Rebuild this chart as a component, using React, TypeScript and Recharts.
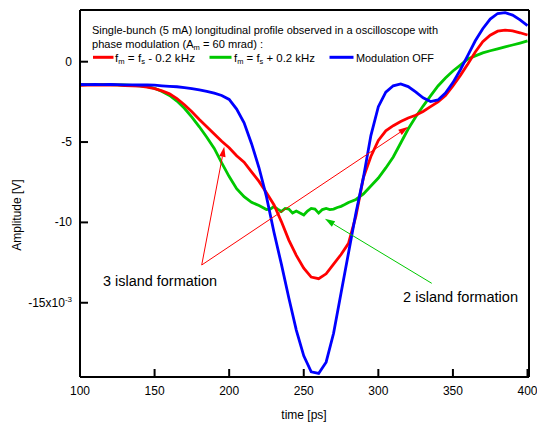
import { LineChart, Line, XAxis, YAxis, ReferenceLine } from 'recharts';

const FONT = '"Liberation Sans", Arial, Helvetica, sans-serif';

// time axis (ps), 5 ps steps
const time = [
  100, 105, 110, 115, 120, 125, 130, 135, 140, 145, 150, 155, 160, 165, 170, 175, 180, 185, 190, 195,
  200, 205, 210, 215, 220, 225, 230, 235, 240, 245, 250, 255, 260, 265, 270, 275, 280, 285, 290, 295,
  300, 305, 310, 315, 320, 325, 330, 335, 340, 345, 350, 355, 360, 365, 370, 375, 380, 385, 390, 395, 400,
];

// amplitude in units of 1e-3 V
const redMinus = [
  -1.47, -1.45, -1.46, -1.44, -1.45, -1.46, -1.48, -1.5, -1.52, -1.58, -1.68, -1.82, -2.0, -2.3, -2.68, -3.12, -3.6, -4.05, -4.5, -4.95,
  -5.35, -5.85, -6.25, -6.85, -7.45, -8.15, -8.9, -9.95, -11.1, -12.05, -12.85, -13.4, -13.5, -13.2, -12.6, -12.0, -11.3, -9.6, -7.2, -5.9,
  -4.9, -4.3, -3.98, -3.72, -3.5, -3.33, -3.1, -2.8, -2.5, -2.1, -1.5, -0.85, -0.15, 0.6, 1.25, 1.65, 1.9, 1.97, 1.92, 1.8, 1.66,
];

const blueOff = [
  -1.42, -1.43, -1.42, -1.43, -1.42, -1.43, -1.44, -1.44, -1.45, -1.45, -1.46, -1.5, -1.53, -1.56, -1.62, -1.68, -1.76, -1.85, -1.96, -2.1,
  -2.35, -2.95, -3.8, -5.1, -6.6, -8.4, -10.6, -12.6, -14.7, -16.7, -18.3, -19.3, -19.4, -18.7, -16.9, -14.4, -11.9, -9.4, -7.2, -4.6,
  -2.8, -1.9, -1.5, -1.38, -1.55, -1.88, -2.25, -2.48, -2.38, -1.95, -1.3, -0.5, 0.4, 1.3, 2.05, 2.65, 3.0, 3.05, 2.9, 2.6, 2.25,
];

// green trace is noisier in the trough, so it is read more finely there
const timeGreen = [
  100, 105, 110, 115, 120, 125, 130, 135, 140, 145, 150, 155, 160, 165, 170, 175, 180, 185, 190, 195,
  200, 205, 210, 215, 220, 222.5, 225, 227.5, 230, 232.5, 235, 237.5, 240, 242.5, 245, 247.5, 250, 252.5,
  255, 257.5, 260, 262.5, 265, 267.5, 270, 272.5, 275, 277.5, 280, 285, 290, 295, 300, 305, 310, 315,
  320, 325, 330, 335, 340, 345, 350, 355, 360, 365, 370, 375, 380, 385, 390, 395, 400,
];
const greenPlus = [
  -1.44, -1.42, -1.43, -1.41, -1.42, -1.44, -1.45, -1.47, -1.5, -1.55, -1.65, -1.85, -2.1, -2.45, -2.9, -3.45, -4.05, -4.7, -5.4, -6.3,
  -7.15, -7.9, -8.4, -8.75, -8.95, -9.07, -9.2, -9.17, -9.01, -9.17, -9.32, -9.13, -9.17, -9.42, -9.29, -9.42, -9.54, -9.29,
  -9.13, -9.17, -9.42, -9.2, -9.13, -9.2, -9.17, -9.07, -9.0, -8.89, -8.76, -8.57, -8.23, -7.73, -7.24, -6.61, -5.93, -5.06,
  -4.19, -3.44, -2.76, -2.13, -1.51, -1.01, -0.58, -0.21, 0.17, 0.36, 0.55, 0.68, 0.8, 0.92, 1.04, 1.16, 1.29,
];

const xTicks = [100, 150, 200, 250, 300, 350, 400];
const yTicks = [0, -5, -10, -15];
const xDomain = [100, 401];
const yDomain = [-19.62, 3.217];

const redData = time.map((t, i) => ({ t, v: redMinus[i] }));
const blueData = time.map((t, i) => ({ t, v: blueOff[i] }));
const greenData = timeGreen.map((t, i) => ({ t, v: greenPlus[i] }));

const RED = '#ff0000';
const GREEN = '#00c800';
const BLUE = '#0000ff';

function BottomTick(props: any) {
  const { x, y, payload } = props;
  return (
    <text x={x} y={Number(y) + 4} textAnchor="middle" fontSize={12} fontFamily={FONT} fill="#000">
      {payload.value}
    </text>
  );
}

function LeftTick(props: any) {
  const { x, y, payload } = props;
  const v = payload.value;
  return (
    <text x={x} y={Number(y) + 4} textAnchor="end" fontSize={12} fontFamily={FONT} fill="#000">
      {v === -15 ? (
        <>
          -15x10<tspan fontSize={8} dy={-5}>-3</tspan>
        </>
      ) : (
        v
      )}
    </text>
  );
}

// line with a filled head at the second point
const arrow = (color: string) => (props: any) => {
  const { x1, y1, x2, y2 } = props;
  const a = Math.atan2(y2 - y1, x2 - x1);
  const len = 10;
  const half = 3.2;
  const bx = x2 - len * Math.cos(a);
  const by = y2 - len * Math.sin(a);
  const pts = `${x2},${y2} ${bx + half * Math.sin(a)},${by - half * Math.cos(a)} ${bx - half * Math.sin(a)},${by + half * Math.cos(a)}`;
  return (
    <g>
      <line x1={x1} y1={y1} x2={bx} y2={by} stroke={color} strokeWidth={1} />
      <polygon points={pts} fill={color} />
    </g>
  );
};

export default function App() {
  const axisLine = { stroke: '#000', strokeWidth: 2 };
  const tickLine = { stroke: '#000', strokeWidth: 2 };
  return (
    <div style={{ position: 'absolute', left: 0, top: 0, width: 537, height: 424, background: '#fff' }}>
      <LineChart width={537} height={424} margin={{ top: 9, right: 7, bottom: 0, left: 20 }}>
        <XAxis
          xAxisId="b"
          dataKey="t"
          type="number"
          domain={xDomain}
          allowDataOverflow
          ticks={xTicks}
          interval={0}
          height={47}
          tickSize={-8}
          tickMargin={22}
          tickLine={tickLine}
          axisLine={axisLine}
          tick={<BottomTick />}
        />
        <XAxis
          xAxisId="t"
          orientation="top"
          dataKey="t"
          type="number"
          domain={xDomain}
          allowDataOverflow
          ticks={xTicks}
          interval={0}
          height={1}
          tickSize={-8}
          tickLine={tickLine}
          axisLine={axisLine}
          tick={false}
        />
        <YAxis
          yAxisId="l"
          type="number"
          domain={yDomain}
          allowDataOverflow
          ticks={yTicks}
          interval={0}
          width={60}
          tickSize={-8}
          tickMargin={16}
          tickLine={tickLine}
          axisLine={axisLine}
          tick={<LeftTick />}
        />
        <YAxis
          yAxisId="r"
          orientation="right"
          type="number"
          domain={yDomain}
          allowDataOverflow
          ticks={yTicks}
          interval={0}
          width={1}
          tickSize={-8}
          tickLine={tickLine}
          axisLine={axisLine}
          tick={false}
        />
        {/* carrier series for the mirrored top/right axes, not drawn */}
        <Line xAxisId="t" yAxisId="r" data={blueData} dataKey="v" stroke="none" strokeWidth={0} dot={false} activeDot={false} isAnimationActive={false} />
        <Line xAxisId="b" yAxisId="l" data={greenData} dataKey="v" type="linear" stroke={GREEN} strokeWidth={2.8} dot={false} isAnimationActive={false} />
        <Line xAxisId="b" yAxisId="l" data={redData} dataKey="v" type="linear" stroke={RED} strokeWidth={2.8} dot={false} isAnimationActive={false} />
        <Line xAxisId="b" yAxisId="l" data={blueData} dataKey="v" type="linear" stroke={BLUE} strokeWidth={2.8} dot={false} isAnimationActive={false} />
        <ReferenceLine xAxisId="b" yAxisId="l" segment={[{ x: 181.6, y: -12.65 }, { x: 196.7, y: -5.29 }]} stroke={RED} shape={arrow(RED)} />
        <ReferenceLine xAxisId="b" yAxisId="l" segment={[{ x: 181.6, y: -12.65 }, { x: 320.1, y: -4.05 }]} stroke={RED} shape={arrow(RED)} />
        <ReferenceLine xAxisId="b" yAxisId="l" segment={[{ x: 335.8, y: -13.79 }, { x: 264.2, y: -9.78 }]} stroke={GREEN} shape={arrow(GREEN)} />
      </LineChart>
      <svg
        width={537}
        height={424}
        style={{ position: 'absolute', left: 0, top: 0, pointerEvents: 'none' }}
        fontFamily={FONT}
        fill="#000"
      >
        <text x={92} y={34} fontSize={11} textLength={346} lengthAdjust="spacingAndGlyphs">
          Single-bunch (5 mA) longitudinal profile observed in a oscilloscope with
        </text>
        <text x={92} y={47.5} fontSize={11} textLength={171} lengthAdjust="spacingAndGlyphs">
          phase modulation (A<tspan fontSize={7.5} dy={2}>m</tspan>
          <tspan dy={-2}> = 60 mrad) :</tspan>
        </text>
        <line x1={93} y1={57.3} x2={113.5} y2={57.3} stroke={RED} strokeWidth={3} />
        <text x={115} y={61.5} fontSize={11.5} textLength={80} lengthAdjust="spacingAndGlyphs">
          f<tspan fontSize={7.5} dy={2.5}>m</tspan>
          <tspan dy={-2.5}> = f</tspan>
          <tspan fontSize={7.5} dy={2.5}>s</tspan>
          <tspan dy={-2.5}> - 0.2 kHz</tspan>
        </text>
        <line x1={209.5} y1={57.3} x2={231.5} y2={57.3} stroke={GREEN} strokeWidth={3} />
        <text x={234} y={61.5} fontSize={11.5} textLength={81} lengthAdjust="spacingAndGlyphs">
          f<tspan fontSize={7.5} dy={2.5}>m</tspan>
          <tspan dy={-2.5}> = f</tspan>
          <tspan fontSize={7.5} dy={2.5}>s</tspan>
          <tspan dy={-2.5}> + 0.2 kHz</tspan>
        </text>
        <line x1={329.5} y1={57.3} x2={353.5} y2={57.3} stroke={BLUE} strokeWidth={3} />
        <text x={356} y={61.5} fontSize={11.5} textLength={78} lengthAdjust="spacingAndGlyphs">
          Modulation OFF
        </text>
        <text x={103} y={285.5} fontSize={14} textLength={114} lengthAdjust="spacingAndGlyphs">
          3 island formation
        </text>
        <text x={403} y={302} fontSize={14} textLength={115} lengthAdjust="spacingAndGlyphs">
          2 island formation
        </text>
        <text x={304} y={419} fontSize={12} textAnchor="middle">
          time [ps]
        </text>
        <text transform="translate(21,215) rotate(-90)" fontSize={12} textAnchor="middle">
          Amplitude [V]
        </text>
      </svg>
    </div>
  );
}
